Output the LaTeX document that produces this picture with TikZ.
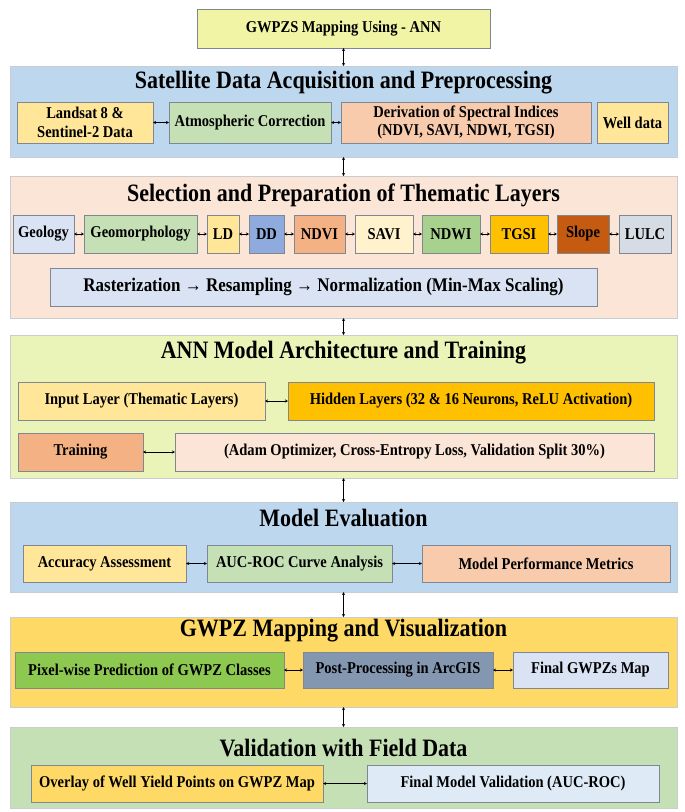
\documentclass[tikz,border=0pt]{standalone}
\usepackage{fontspec}
\setmainfont{Liberation Serif}[FakeStretch=0.88]
\usetikzlibrary{arrows.meta}
\definecolor{bordc}{HTML}{7F8794}
\definecolor{panelc}{HTML}{C9CDD2}
\definecolor{topc}{HTML}{F1F4A4}
\definecolor{pblue}{HTML}{BDD7EE}
\definecolor{ppeach}{HTML}{FBE5D6}
\definecolor{plime}{HTML}{EAF4B8}
\definecolor{pgold}{HTML}{FFD966}
\definecolor{pgreen}{HTML}{C5E0B4}
\definecolor{cyel}{HTML}{FFE699}
\definecolor{cgreen}{HTML}{C5E0B4}
\definecolor{cpeach}{HTML}{F8CBAD}
\definecolor{cgeo}{HTML}{DAE3F3}
\definecolor{cdd}{HTML}{8FAADC}
\definecolor{cndvi}{HTML}{F4B183}
\definecolor{csavi}{HTML}{FFF2CC}
\definecolor{cndwi}{HTML}{A9D18E}
\definecolor{ctgsi}{HTML}{FFC000}
\definecolor{cslope}{HTML}{C55A11}
\definecolor{clulc}{HTML}{D6DCE4}
\definecolor{cpix}{HTML}{8DC851}
\definecolor{cpost}{HTML}{8497B0}
\definecolor{cfmv}{HTML}{DEEBF7}
\newcommand\bx[8][]{\node[box, fill=#7, minimum width={(#4)-(#2)}, minimum height={(#5)-(#3)}, #1] (#2x) at ({((#3)+(#5))/2},{((#4)+(#6))/2}) {#8};}
\newcommand\mybox[8][]{\node[box, fill=#7, minimum width={(#5)-(#3)}, minimum height={(#6)-(#4)}, #1] (#2) at ({((#3)+(#5))/2},{((#4)+(#6))/2}) {#8};}
\newcommand\mypanel[6]{\node[panel, fill=#6, minimum width={(#4)-(#2)}, minimum height={(#5)-(#3)}] (#1) at ({((#2)+(#4))/2},{((#3)+(#5))/2}) {};}
\begin{document}
\begin{tikzpicture}[x=1pt,y=-1pt,
  box/.style={draw=bordc, line width=0.8pt, inner sep=1pt, outer sep=0pt, align=center,
    font=\fontsize{16.5}{18.5}\selectfont\bfseries},
  panel/.style={draw=panelc, line width=0.7pt, inner sep=0pt, outer sep=0pt},
  ttl/.style={inner sep=0pt, font=\fontsize{25}{28}\selectfont\bfseries},
  arr/.style={{Stealth[length=3pt,width=3pt]}-{Stealth[length=3pt,width=3pt]}, line width=0.6pt, black}]
\useasboundingbox (0,0) rectangle (685,812);
\fill[white] (0,0) rectangle (685,812);
% top box
\mybox{top}{197}{9}{490}{48}{topc}{GWPZS Mapping Using - ANN}
% panels
\mypanel{p1}{10}{66}{677}{157}{pblue}
\mypanel{p2}{10}{176}{677}{318}{ppeach}
\mypanel{p3}{10}{335}{677}{478}{plime}
\mypanel{p4}{10}{502}{677}{592}{pblue}
\mypanel{p5}{10}{617}{677}{707}{pgold}
\mypanel{p6}{10}{727}{677}{808}{pgreen}
% titles
\node[ttl] (t1) at (343.5,83) {Satellite Data Acquisition and Preprocessing};
\node[ttl] (t2) at (343.5,195) {Selection and Preparation of Thematic Layers};
\node[ttl] (t3) at (343.5,353) {ANN Model Architecture and Training};
\node[ttl] (t4) at (343.5,518) {Model Evaluation};
\node[ttl] (t5) at (343.5,631) {GWPZ Mapping and Visualization};
\node[ttl] (t6) at (343.5,748) {Validation with Field Data};
% panel 1
\mybox{land}{17}{102}{153}{143}{cyel}{Landsat 8 \&\\Sentinel-2 Data}
\mybox{atm}{169}{102}{331}{143}{cgreen}{Atmospheric Correction}
\mybox{der}{341}{102}{591}{143}{cpeach}{Derivation of Spectral Indices\\(NDVI, SAVI, NDWI, TGSI)}
\mybox{well}{597}{102}{668}{143}{cyel}{Well data}
% panel 2
\mybox{geol}{13}{215}{74}{253}{cgeo}{Geology}
\mybox{geom}{84}{215}{197}{253}{cgreen}{Geomorphology}
\mybox{ld}{207}{215}{239}{253}{cyel}{LD}
\mybox{dd}{249}{215}{284}{253}{cdd}{DD}
\mybox{ndvi}{294}{215}{345}{253}{cndvi}{NDVI}
\mybox{savi}{355}{215}{413}{253}{csavi}{SAVI}
\mybox{ndwi}{422}{215}{480}{253}{cndwi}{NDWI}
\mybox{tgsi}{490}{215}{548}{253}{ctgsi}{TGSI}
\mybox{slope}{557}{215}{609}{253}{cslope}{Slope}
\mybox{lulc}{619}{215}{671}{253}{clulc}{LULC}
\mybox[font=\fontsize{19.3}{21}\selectfont\bfseries]{rast}{50}{268}{597}{306}{cgeo}{Rasterization → Resampling → Normalization (Min-Max Scaling)}
% panel 3
\mybox{inp}{18}{382}{265}{420}{cyel}{Input Layer (Thematic Layers)}
\mybox{hid}{288}{382}{654}{420}{ctgsi}{Hidden Layers (32 \& 16 Neurons, ReLU Activation)}
\mybox{trn}{18}{433}{143}{471}{cndvi}{Training}
\mybox{adam}{175}{433}{654}{471}{ppeach}{(Adam Optimizer, Cross-Entropy Loss, Validation Split 30\%)}
% panel 4
\mybox{acc}{23}{545}{186}{582}{cyel}{Accuracy Assessment}
\mybox{auc}{207}{545}{392}{582}{cgreen}{AUC-ROC Curve Analysis}
\mybox{perf}{422}{545}{670}{582}{cpeach}{Model Performance Metrics}
% panel 5
\mybox{pix}{15}{652}{284}{688}{cpix}{Pixel-wise Prediction of GWPZ Classes}
\mybox{post}{303}{652}{493}{688}{cpost}{Post-Processing in ArcGIS}
\mybox{fin}{513}{652}{668}{688}{cgeo}{Final GWPZs Map}
% panel 6
\mybox{ovl}{31}{765}{323}{802}{pgold}{Overlay of Well Yield Points on GWPZ Map}
\mybox{fmv}{367}{765}{659}{802}{cfmv}{Final Model Validation (AUC-ROC)}
% vertical connectors
\draw[arr] (top) -- (p1);
\draw[arr] (p1) -- (p2);
\draw[arr] (p2) -- (p3);
\draw[arr] (p3) -- (p4);
\draw[arr] (p4) -- (p5);
\draw[arr] (p5) -- (p6);
% horizontal connectors
\draw[arr] (land) -- (atm);
\draw[arr] (atm) -- (der);
\foreach \a/\b in {geol/geom, geom/ld, ld/dd, dd/ndvi, ndvi/savi, savi/ndwi, ndwi/tgsi, tgsi/slope, slope/lulc}
  \draw[arr] (\a) -- (\b);
\draw[arr] (inp) -- (hid);
\draw[arr] (trn) -- (adam);
\draw[arr] (acc) -- (auc);
\draw[arr] (auc) -- (perf);
\draw[arr] (pix) -- (post);
\draw[arr] (post) -- (fin);
\draw[arr] (ovl) -- (fmv);
\end{tikzpicture}
\end{document}
